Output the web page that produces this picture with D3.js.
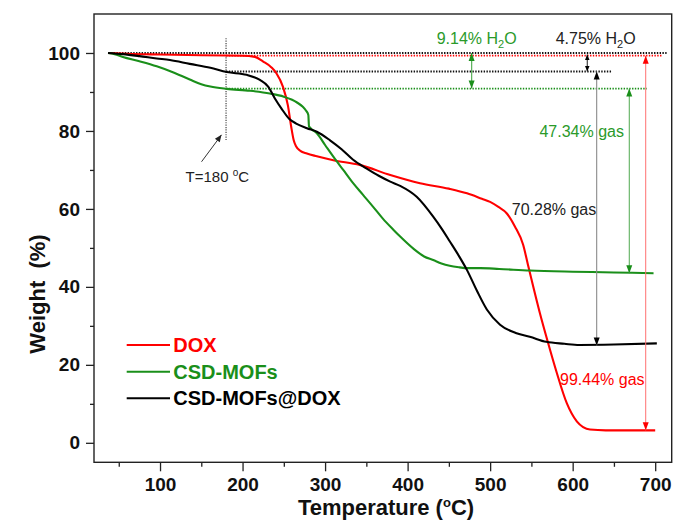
<!DOCTYPE html>
<html>
<head>
<meta charset="utf-8">
<script src="https://cdn.jsdelivr.net/npm/d3@7"></script>
<style>
  body { margin: 0; background: #fff; }
  svg { display: block; font-family: Arial, "Liberation Sans", sans-serif; }
</style>
</head>
<body>
<svg id="chart" width="676" height="521"></svg>
<script>
// ---- TGA curves: temperature (°C) and remaining weight (%) ----
const doxTemp   = [37, 60, 100, 150, 200, 215, 225, 235, 241, 249, 255, 259, 262, 265, 270, 278, 290, 310, 342, 379, 415, 450, 472, 490, 500, 510, 520, 530, 540, 546, 550, 560, 570, 580, 593, 605, 621, 640, 670, 700];
const doxWeight = [100, 99.8, 99.6, 99.4, 99.3, 99.0, 97.8, 96.3, 94.8, 91.3, 86.5, 81.0, 77.6, 76.0, 74.9, 74.2, 73.5, 72.5, 71.3, 68.7, 66.6, 65.2, 64.0, 62.6, 61.8, 60.5, 58.9, 55.5, 50.8, 45.5, 42.0, 33.5, 25.8, 18.5, 10.1, 5.5, 3.4, 3.2, 3.2, 3.2];

const mofTemp   = [37, 45, 55, 75, 96, 114, 136, 150, 161, 181, 209, 233, 250, 260, 266, 273, 277, 279.7, 280.5, 284, 290, 300, 310, 322, 334, 346, 358, 370, 383, 391, 407, 420, 431, 441, 451, 463, 472, 488, 511, 548, 600, 650, 698];
const mofWeight = [100, 99.7, 99.0, 97.9, 96.6, 95.2, 93.2, 92.0, 91.4, 90.8, 90.3, 89.6, 88.8, 88.0, 87.3, 86.2, 85.2, 84.1, 81.2, 80.4, 79.4, 76.4, 73.4, 70.0, 66.6, 63.6, 60.6, 57.5, 54.6, 52.9, 49.8, 47.8, 46.9, 46.0, 45.4, 45.0, 44.8, 44.8, 44.6, 44.2, 43.9, 43.7, 43.5];

const comboTemp   = [37, 55, 75, 96, 112, 136, 161, 181, 205, 221, 231, 239, 247, 257, 265, 278, 290, 306, 320, 334, 350, 365, 379, 391, 411, 431, 441, 451, 462, 472, 484, 496, 512, 532, 548, 568, 590, 608, 650, 702];
const comboWeight = [100, 99.7, 99.2, 98.6, 98.2, 97.2, 96.2, 95.1, 94.4, 93.1, 91.4, 88.4, 85.8, 83.0, 81.9, 80.7, 79.8, 77.6, 75.3, 72.6, 70.4, 68.5, 67.0, 65.9, 63.1, 58.0, 55.0, 51.7, 48.0, 44.3, 39.0, 34.2, 30.3, 28.1, 27.2, 25.9, 25.4, 25.1, 25.2, 25.5];

const seriesNames = ["DOX", "CSD-MOFs", "CSD-MOFs@DOX"];

// Stated mass losses (%)
const waterLoss = [9.14, 4.75];          // CSD-MOFs, CSD-MOFs@DOX
const gasLoss   = [99.44, 47.34, 70.28]; // DOX, CSD-MOFs, CSD-MOFs@DOX
const onsetTemp = 180;                   // end of dehydration step
const doxTopLevel = 99.3;                // DOX plateau before decomposition

// Axis ticks
const xMajorTicks = [100, 200, 300, 400, 500, 600, 700];
const xMinorTicks = [50, 150, 250, 350, 450, 550, 650];
const yMajorTicks = [0, 20, 40, 60, 80, 100];
const yMinorTicks = [10, 30, 50, 70, 90];

// ---- layout ----
const RED = "#ff0000", GREEN = "#1a8f1a", BLACK = "#000000";
const GREEN_TXT = "#2a9a2a";
const svg = d3.select("#chart");
const plotL = 94, plotR = 671.7, plotT = 14, plotB = 462.3;

const x = d3.scaleLinear().domain([20, 720]).range([plotL, plotR]);
const y = d3.scaleLinear().domain([-5, 110]).range([plotB, plotT]);

// frame
svg.append("rect")
  .attr("x", plotL).attr("y", plotT)
  .attr("width", plotR - plotL).attr("height", plotB - plotT)
  .attr("fill", "none").attr("stroke", "#222").attr("stroke-width", 1.4);

// x axis
const gx = svg.append("g").attr("transform", `translate(0,${plotB})`);
gx.call(d3.axisBottom(x).tickValues(xMajorTicks).tickSize(9).tickPadding(6).tickFormat(d3.format("d")));
gx.append("g").call(d3.axisBottom(x).tickValues(xMinorTicks).tickSize(4.5).tickFormat(""));
gx.selectAll(".domain").remove();
gx.selectAll("line").attr("stroke", "#222").attr("stroke-width", 1.3);
gx.selectAll("text").attr("font-size", 19).attr("font-weight", "bold").attr("fill", "#111");

// y axis
const gy = svg.append("g").attr("transform", `translate(${plotL},0)`);
gy.call(d3.axisLeft(y).tickValues(yMajorTicks).tickSize(8).tickPadding(6).tickFormat(d3.format("d")));
gy.append("g").call(d3.axisLeft(y).tickValues(yMinorTicks).tickSize(4).tickFormat(""));
gy.selectAll(".domain").remove();
gy.selectAll("line").attr("stroke", "#222").attr("stroke-width", 1.3);
gy.selectAll("text").attr("font-size", 19).attr("font-weight", "bold").attr("fill", "#111");

// axis titles
const xt = svg.append("text")
  .attr("x", 386).attr("y", 515)
  .attr("text-anchor", "middle")
  .attr("font-size", 22).attr("font-weight", "bold").attr("fill", "#111");
xt.append("tspan").text("Temperature (");
xt.append("tspan").text("o").attr("font-size", 13).attr("dy", -8);
xt.append("tspan").text("C)").attr("dy", 8);

svg.append("text")
  .attr("transform", "translate(45,294) rotate(-90)")
  .attr("text-anchor", "middle")
  .attr("font-size", 22).attr("font-weight", "bold").attr("fill", "#111")
  .attr("xml:space", "preserve")
  .text("Weight  (%)");

// ---- reference lines ----
function dotted(t0, t1, level, color) {
  svg.append("line")
    .attr("x1", x(t0)).attr("x2", x(t1))
    .attr("y1", y(level)).attr("y2", y(level))
    .attr("stroke", color).attr("stroke-width", 1.8)
    .attr("stroke-dasharray", "1.4,1.4");
}
const mofLevel = 100 - waterLoss[0];
const comboLevel = 100 - waterLoss[1];

dotted(37, 713.8, 100, "#111");
dotted(onsetTemp, 707.9, doxTopLevel, RED);
dotted(onsetTemp, 647.3, comboLevel, "#111");
dotted(onsetTemp, 689.7, mofLevel, GREEN);

// onset marker
svg.append("line")
  .attr("x1", x(onsetTemp)).attr("x2", x(onsetTemp))
  .attr("y1", y(103.8)).attr("y2", y(77.7))
  .attr("stroke", "#333").attr("stroke-width", 1.1)
  .attr("stroke-dasharray", "1.2,1.2");

// ---- curves ----
const line = d3.line().x(d => x(d[0])).y(d => y(d[1])).curve(d3.curveMonotoneX);
const series = [
  { name: seriesNames[0], color: RED,   pts: d3.zip(doxTemp, doxWeight) },
  { name: seriesNames[1], color: GREEN, pts: d3.zip(mofTemp, mofWeight) },
  { name: seriesNames[2], color: BLACK, pts: d3.zip(comboTemp, comboWeight) }
];
series.forEach(s => {
  svg.append("path").datum(s.pts)
    .attr("d", line)
    .attr("fill", "none").attr("stroke", s.color).attr("stroke-width", 2.1)
    .attr("stroke-linejoin", "round");
});

// ---- arrows ----
function head(px, py, dir, color, w, l) {
  // dir: -1 points up, +1 points down; (px,py) is the tip
  svg.append("path")
    .attr("d", `M${px},${py} L${px - w / 2},${py - dir * l} L${px + w / 2},${py - dir * l} Z`)
    .attr("fill", color);
}
function vArrow(t, w0, w1, lineColor, headColor, hw, hl, lw, bothEnds) {
  const px = x(t), py0 = y(w0), py1 = y(w1);
  svg.append("line")
    .attr("x1", px).attr("x2", px).attr("y1", py0).attr("y2", py1)
    .attr("stroke", lineColor).attr("stroke-width", lw);
  head(px, py1, 1, headColor, hw, hl);
  if (bothEnds) head(px, py0, -1, headColor, hw, hl);
}
// water-loss double arrows
vArrow(477.6, 100, mofLevel, "#58b058", GREEN, 6, 8, 1.2, true);
vArrow(617.7, 99.6, comboLevel, "#333", BLACK, 4.5, 5.5, 1.1, true);
// gas-loss arrows
vArrow(629.1, comboLevel, comboLevel - gasLoss[2], "#8a8a8a", BLACK, 6, 8, 1.1, true);
vArrow(668.6, mofLevel, mofLevel - gasLoss[1], "#4fa84f", GREEN, 6, 8, 1.0, true);
vArrow(688.5, doxTopLevel, doxWeight[doxWeight.length - 1], "#ff7070", RED, 6, 8, 1.0, true);

// onset pointer
const tx0 = x(150.3), ty0 = y(72.1), tx1 = x(174.5), ty1 = y(79.0);
svg.append("line")
  .attr("x1", tx0).attr("y1", ty0).attr("x2", tx1).attr("y2", ty1)
  .attr("stroke", "#333").attr("stroke-width", 1);
{
  const ang = Math.atan2(ty1 - ty0, tx1 - tx0);
  const l = 7, w = 3;
  const bx = tx1 - l * Math.cos(ang), by = ty1 - l * Math.sin(ang);
  svg.append("path")
    .attr("d", `M${tx1},${ty1} L${bx + w * Math.sin(ang)},${by - w * Math.cos(ang)} L${bx - w * Math.sin(ang)},${by + w * Math.cos(ang)} Z`)
    .attr("fill", "#222");
}

// ---- annotation text ----
function label(px, py, color, size) {
  return svg.append("text").attr("x", px).attr("y", py)
    .attr("text-anchor", "middle").attr("font-size", size).attr("fill", color);
}
function waterLabel(px, py, color, val) {
  const t = label(px, py, color, 16);
  t.append("tspan").text(`${val}% H`);
  t.append("tspan").text("2").attr("font-size", 11).attr("dy", 4);
  t.append("tspan").text("O").attr("dy", -4);
}
waterLabel(476.7, 44, GREEN_TXT, waterLoss[0].toFixed(2));
waterLabel(595.7, 44, "#222", waterLoss[1].toFixed(2));

label(581.7, 137, GREEN_TXT, 16).text(`${gasLoss[1].toFixed(2)}% gas`);
label(554, 215, "#222", 16).text(`${gasLoss[2].toFixed(2)}% gas`);
label(602.3, 385, RED, 16).text(`${gasLoss[0].toFixed(2)}% gas`);

{
  const t = label(217.3, 182, "#222", 15);
  t.append("tspan").text(`T=${onsetTemp} `);
  t.append("tspan").text("o").attr("font-size", 10).attr("dy", -6);
  t.append("tspan").text("C").attr("dy", 6);
}

// ---- legend ----
const legY = [345, 371.7, 398.3];
series.forEach((s, i) => {
  svg.append("line")
    .attr("x1", 126.7).attr("x2", 170)
    .attr("y1", legY[i]).attr("y2", legY[i])
    .attr("stroke", s.color).attr("stroke-width", 2);
  svg.append("text")
    .attr("x", 173.3).attr("y", legY[i] + 7)
    .attr("font-size", 20).attr("font-weight", "bold")
    .attr("fill", s.color)
    .text(s.name);
});
</script>
</body>
</html>
